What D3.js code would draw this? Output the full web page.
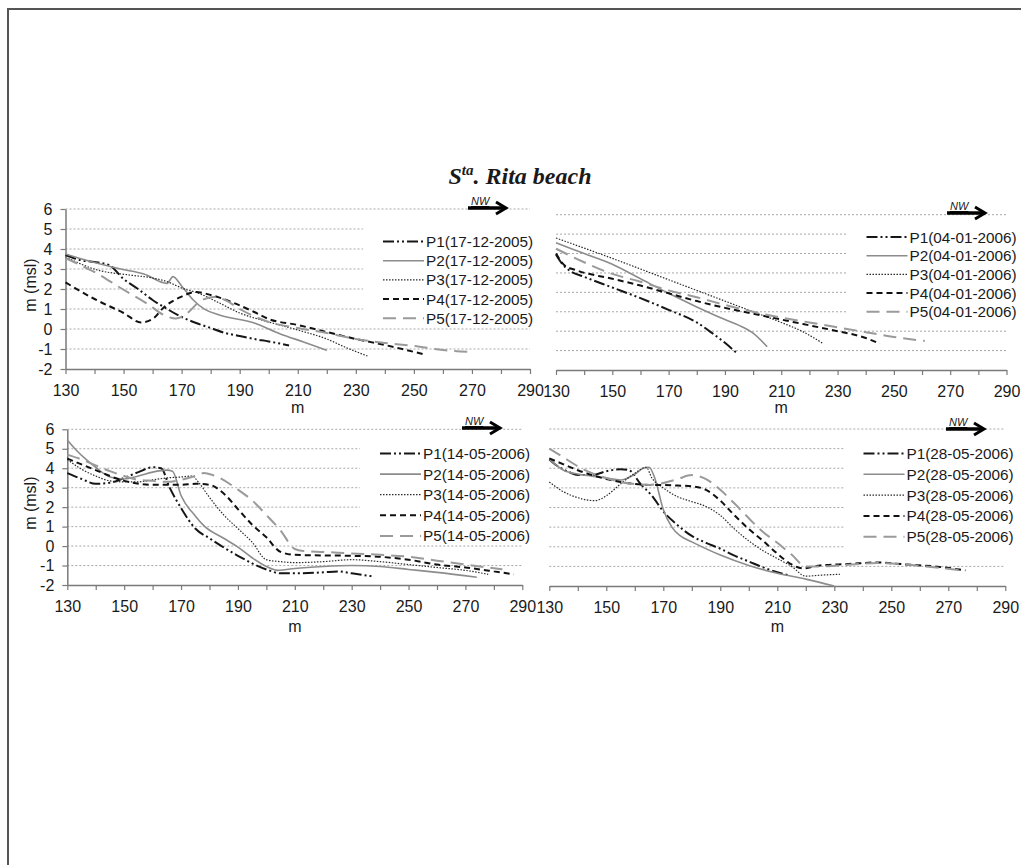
<!DOCTYPE html>
<html>
<head>
<meta charset="utf-8">
<script src="https://d3js.org/d3.v7.min.js"></script>
<style>
  body { margin:0; background:#fff; }
  text { font-family: "Liberation Sans", Arial, sans-serif; fill:#1a1a1a; }
</style>
</head>
<body>
<script>

/* Data */
/* ==== */

var profiles = ['P1', 'P2', 'P3', 'P4', 'P5'];
var surveyDates = ['17-12-2005', '04-01-2006', '14-05-2006', '28-05-2006'];
var xTickValues = [130, 140, 150, 160, 170, 180, 190, 200, 210, 220, 230, 240, 250, 260, 270, 280, 290];
var xTickLabels = [130, 150, 170, 190, 210, 230, 250, 270, 290];
var yTickValues = [-2, -1, 0, 1, 2, 3, 4, 5, 6];

// distance (m), elevation (m msl)
var dec17_P1 = [[130,3.7],[135,3.45],[140,3.35],[145,3.2],[150,2.5],[155,2.0],[160,1.45],[165,1.0],[170,0.6],[175,0.3],[180,0.05],[185,-0.2],[190,-0.35],[195,-0.5],[200,-0.62],[207,-0.82]];
var dec17_P2 = [[130,3.75],[138,3.4],[149,3.0],[157,2.75],[165,2.28],[167,2.62],[170,2.15],[174,1.45],[178,0.98],[183,0.7],[195,0.3],[204,-0.25],[212,-0.65],[220,-1.07]];
var dec17_P3 = [[130,3.6],[141,2.95],[152,2.7],[160,2.55],[165,2.37],[170,2.05],[176,1.78],[183,1.3],[190,0.8],[200,0.35],[210,-0.05],[220,-0.5],[227,-0.95],[234,-1.35]];
var dec17_P4 = [[130,2.33],[140,1.5],[150,0.8],[156,0.33],[160,0.5],[164,1.1],[170,1.62],[175,1.85],[180,1.7],[188,1.3],[195,0.85],[200,0.5],[210,0.2],[220,-0.15],[230,-0.5],[240,-0.8],[253,-1.25]];
var dec17_P5 = [[130,3.55],[135,3.2],[140,2.85],[149,2.05],[158,1.28],[165,0.62],[168,0.52],[172,0.8],[176,1.35],[181,1.6],[185,1.45],[190,1.0],[200,0.35],[210,0.05],[220,-0.2],[230,-0.5],[240,-0.7],[250,-0.85],[260,-1.05],[270,-1.15]];

var jan04_P1 = [[130,3.95],[132,3.5],[135,3.1],[140,2.8],[150,2.25],[160,1.7],[170,1.1],[180,0.45],[185,-0.05],[190,-0.6],[194,-1.1]];
var jan04_P2 = [[130,4.55],[140,4.0],[150,3.45],[160,2.7],[170,1.95],[180,1.25],[190,0.6],[195,0.3],[200,-0.1],[205,-0.8]];
var jan04_P3 = [[130,4.8],[150,3.75],[170,2.65],[190,1.55],[200,1.0],[210,0.45],[218,-0.05],[225,-0.65]];
var jan04_P4 = [[130,4.0],[133,3.4],[137,3.15],[150,2.7],[160,2.35],[170,1.95],[180,1.55],[190,1.2],[200,0.9],[210,0.6],[220,0.3],[230,0.0],[240,-0.35],[245,-0.65]];
var jan04_P5 = [[130,4.25],[140,3.55],[150,2.95],[160,2.55],[170,2.1],[180,1.75],[190,1.35],[200,1.0],[210,0.7],[220,0.45],[230,0.2],[240,-0.05],[250,-0.3],[261,-0.5]];

var may14_P1 = [[130,3.75],[135,3.45],[140,3.2],[145,3.25],[150,3.5],[155,3.8],[160,4.05],[163,4.0],[166,3.0],[170,1.95],[175,0.9],[180,0.4],[190,-0.5],[200,-1.2],[205,-1.4],[210,-1.4],[220,-1.35],[225,-1.3],[230,-1.4],[237,-1.55]];
var may14_P2 = [[130,5.45],[133,4.95],[137,4.4],[140,4.05],[145,3.55],[150,3.45],[155,3.6],[160,3.8],[165,3.9],[167,3.85],[170,2.6],[175,1.55],[178,1.05],[185,0.4],[190,-0.05],[195,-0.6],[200,-1.05],[204,-1.25],[210,-1.15],[220,-1.05],[230,-1.0],[240,-1.05],[250,-1.2],[260,-1.35],[274,-1.6]];
var may14_P3 = [[130,4.45],[135,3.95],[140,3.6],[145,3.35],[150,3.3],[155,3.3],[160,3.4],[165,3.5],[170,3.55],[174,3.6],[176,3.3],[180,2.5],[185,1.6],[190,0.9],[195,0.2],[200,-0.7],[205,-0.8],[210,-0.85],[220,-0.8],[230,-0.7],[240,-0.8],[250,-0.95],[260,-1.1],[270,-1.25],[278,-1.45]];
var may14_P4 = [[130,4.5],[140,3.9],[150,3.35],[160,3.15],[170,3.15],[175,3.2],[180,3.15],[185,2.7],[190,1.9],[195,1.1],[200,0.45],[205,-0.3],[210,-0.45],[220,-0.48],[230,-0.5],[240,-0.55],[250,-0.7],[260,-0.95],[270,-1.1],[280,-1.3],[287,-1.45]];
var may14_P5 = [[130,4.7],[135,4.45],[140,4.15],[145,3.85],[150,3.6],[155,3.4],[160,3.35],[165,3.3],[170,3.4],[175,3.6],[178,3.75],[182,3.6],[190,2.9],[195,2.35],[200,1.6],[205,0.8],[210,-0.15],[213,-0.25],[220,-0.3],[230,-0.38],[240,-0.45],[250,-0.55],[260,-0.75],[270,-0.95],[283,-1.2]];

var may28_P1 = [[130,4.45],[133,4.1],[137,3.8],[140,3.65],[145,3.65],[150,3.85],[155,3.95],[158,3.9],[162,3.2],[166,2.6],[170,1.8],[175,1.1],[180,0.55],[185,0.2],[190,-0.1],[195,-0.45],[200,-0.75],[205,-1.05],[210,-1.3],[214,-1.45]];
var may28_P2 = [[130,4.45],[135,3.9],[140,3.7],[145,3.6],[150,3.5],[155,3.4],[160,3.7],[163,4.0],[165,4.05],[167,3.5],[170,1.9],[173,1.0],[176,0.55],[180,0.25],[190,-0.42],[200,-0.95],[210,-1.35],[220,-1.65],[230,-2.0]];
var may28_P3 = [[130,3.3],[135,2.8],[140,2.5],[146,2.35],[150,2.6],[155,3.2],[160,3.75],[164,4.05],[166,3.5],[170,3.0],[175,2.55],[180,2.3],[185,2.05],[190,1.6],[195,0.9],[200,0.3],[205,-0.2],[210,-0.6],[215,-1.0],[220,-1.5],[225,-1.45],[232,-1.4]];
var may28_P4 = [[130,4.5],[135,4.2],[140,3.9],[145,3.65],[150,3.45],[155,3.3],[160,3.2],[165,3.15],[170,3.15],[175,3.12],[180,3.08],[185,2.9],[190,2.35],[195,1.6],[200,0.9],[205,0.3],[210,-0.35],[215,-0.9],[219,-1.1],[225,-0.95],[235,-0.88],[245,-0.8],[255,-0.9],[265,-1.0],[276,-1.2]];
var may28_P5 = [[130,5.0],[135,4.55],[140,4.1],[145,3.75],[150,3.5],[155,3.3],[160,3.2],[165,3.15],[170,3.25],[175,3.45],[180,3.65],[185,3.45],[190,2.9],[195,2.2],[200,1.45],[205,0.75],[210,0.2],[215,-0.4],[220,-1.0],[225,-1.0],[235,-0.92],[245,-0.83],[255,-0.9],[265,-1.05],[276,-1.22]];

var surveys = [
  [dec17_P1, dec17_P2, dec17_P3, dec17_P4, dec17_P5],
  [jan04_P1, jan04_P2, jan04_P3, jan04_P4, jan04_P5],
  [may14_P1, may14_P2, may14_P3, may14_P4, may14_P5],
  [may28_P1, may28_P2, may28_P3, may28_P4, may28_P5]
];


/* Set up */
/* ====== */

var width = 1021,
    height = 865;

// line styles of the five profiles
var styles = [
  { stroke: '#161616', width: 2,   dash: '11,3,2,3,2,3' },
  { stroke: '#8c8c8c', width: 1.6, dash: null },
  { stroke: '#2a2a2a', width: 1.2, dash: '1.5,1.5' },
  { stroke: '#111',    width: 2,   dash: '6,4' },
  { stroke: '#9a9a9a', width: 2,   dash: '13,7' }
];

// panel placement
var panels = [
  { x0: 65.5, x1: 530,    yTop: 209,   yBot: 369, yLabels: true,  legX: 383,   legY: 241.5, legStep: 19.2, nwX: 468, nwY: 208, titleY: 407, cut: [1,2,3,4,5] },
  { x0: 556,  x1: 1006.5, yTop: 214.7, yBot: 370, yLabels: false, legX: 866.5, legY: 237,   legStep: 18.7, nwX: 947, nwY: 213, titleY: 407, cut: [1,2,3,4,5] },
  { x0: 67.3, x1: 522.3,  yTop: 429.3, yBot: 585, yLabels: true,  legX: 380,   legY: 453.5, legStep: 20.6, nwX: 462, nwY: 428, titleY: 626, cut: [1,2,3,4,5] },
  { x0: 549.3,x1: 1005.3, yTop: 429,   yBot: 586, yLabels: false, legX: 863.5, legY: 453.5, legStep: 20.8, nwX: 946, nwY: 429, titleY: 626, cut: [0,1,2,3,4,5] }
];

var svg = d3.select('body')
  .append('svg')
    .attr('width', width)
    .attr('height', height);

// frame of the scanned figure
svg.append('path')
  .attr('d', 'M8,' + height + 'V9H' + width)
  .attr('fill', 'none')
  .attr('stroke', '#555')
  .attr('stroke-width', 2);

// title
var title = svg.append('text')
  .attr('x', 520)
  .attr('y', 184)
  .attr('text-anchor', 'middle')
  .style('font-family', '"Liberation Serif", "Times New Roman", serif')
  .style('font-weight', 'bold')
  .style('font-style', 'italic')
  .style('font-size', '24px');
title.append('tspan').text('S');
title.append('tspan').attr('dy', -9).style('font-size', '15px').text('ta');
title.append('tspan').attr('dy', 9).text('. Rita beach');


/* Panels */
/* ====== */

panels.forEach(function(p, i) {

  var x = d3.scaleLinear().domain([130, 290]).range([p.x0, p.x1]);
  var y = d3.scaleLinear().domain([-2, 6]).range([p.yBot, p.yTop]);
  var g = svg.append('g');

  // dotted gridlines, cut where the legend sits
  g.selectAll('.grid')
      .data(yTickValues.filter(function(v) { return v > -2; }))
      .enter()
    .append('line')
      .classed('grid', true)
      .attr('x1', x(130))
      .attr('x2', function(v) { return p.cut.indexOf(v) >= 0 ? p.legX - 20 : x(290); })
      .attr('y1', function(v) { return y(v); })
      .attr('y2', function(v) { return y(v); })
      .attr('stroke', '#a8a8a8')
      .attr('stroke-width', 1)
      .attr('stroke-dasharray', '2,2');

  // x axis
  var xAxis = d3.axisBottom(x)
    .tickValues(xTickValues)
    .tickSize(5)
    .tickSizeOuter(0)
    .tickPadding(11)
    .tickFormat(function(d) { return xTickLabels.indexOf(d) >= 0 ? d : ''; });

  var gx = g.append('g')
    .attr('transform', 'translate(0,' + p.yBot + ')')
    .call(xAxis);
  gx.select('.domain').attr('stroke', '#7a7a7a').attr('stroke-width', 1.5);
  gx.selectAll('.tick line').attr('stroke', '#7a7a7a').attr('stroke-width', 1.2);
  gx.selectAll('text')
    .style('font-family', '"Liberation Sans", Arial, sans-serif')
    .style('font-size', '16px')
    .attr('fill', '#1a1a1a');

  g.append('text')
    .attr('x', (p.x0 + p.x1) / 2)
    .attr('y', p.titleY)
    .attr('text-anchor', 'middle')
    .attr('dy', '0.35em')
    .style('font-size', '16px')
    .text('m');

  // y axis only on the left panels
  if (p.yLabels) {
    var yAxis = d3.axisLeft(y)
      .tickValues(yTickValues)
      .tickSize(5)
      .tickSizeOuter(0)
      .tickPadding(8)
      .tickFormat(function(d) { return String(d); });

    var gy = g.append('g')
      .attr('transform', 'translate(' + p.x0 + ',0)')
      .call(yAxis);
    gy.select('.domain').attr('stroke', '#7a7a7a').attr('stroke-width', 1.5);
    gy.selectAll('.tick line').attr('stroke', '#7a7a7a').attr('stroke-width', 1.2);
    gy.selectAll('text')
      .style('font-family', '"Liberation Sans", Arial, sans-serif')
      .style('font-size', '16px')
      .attr('fill', '#1a1a1a');

    g.append('text')
      .attr('transform', 'translate(30,' + ((p.yTop + p.yBot) / 2 - 4) + ') rotate(-90)')
      .attr('text-anchor', 'middle')
      .attr('dy', '0.35em')
      .style('font-size', '16px')
      .text('m (msl)');
  }

  // profile lines
  var line = d3.line()
    .x(function(d) { return x(d[0]); })
    .y(function(d) { return y(d[1]); })
    .curve(d3.curveMonotoneX);

  g.selectAll('.profile')
      .data(surveys[i])
      .enter()
    .append('path')
      .classed('profile', true)
      .attr('d', line)
      .attr('fill', 'none')
      .attr('stroke', function(d, k) { return styles[k].stroke; })
      .attr('stroke-width', function(d, k) { return styles[k].width; })
      .attr('stroke-dasharray', function(d, k) { return styles[k].dash; });

  // legend
  var legend = g.selectAll('.legend')
      .data(profiles)
      .enter()
    .append('g')
      .classed('legend', true)
      .attr('transform', function(d, k) { return 'translate(' + p.legX + ',' + (p.legY + k * p.legStep) + ')'; });

  legend.append('line')
    .attr('x1', 0)
    .attr('x2', 41)
    .attr('stroke', function(d, k) { return styles[k].stroke; })
    .attr('stroke-width', function(d, k) { return styles[k].width; })
    .attr('stroke-dasharray', function(d, k) { return styles[k].dash; });

  legend.append('text')
    .attr('x', 43)
    .attr('dy', '0.36em')
    .style('font-size', '15.3px')
    .text(function(d) { return d + '(' + surveyDates[i] + ')'; });

  // NW arrow
  var nw = g.append('g').attr('transform', 'translate(' + p.nwX + ',' + p.nwY + ')');
  nw.append('text')
    .attr('x', 3)
    .attr('y', -3)
    .style('font-size', '11px')
    .style('font-style', 'italic')
    .style('text-decoration', 'underline')
    .text('NW');
  nw.append('line')
    .attr('x1', 0).attr('x2', 37)
    .attr('stroke', '#000')
    .attr('stroke-width', 3.5);
  nw.append('path')
    .attr('d', 'M28,-6L38,0L28,6')
    .attr('fill', 'none')
    .attr('stroke', '#000')
    .attr('stroke-width', 3);

});

</script>
</body>
</html>
